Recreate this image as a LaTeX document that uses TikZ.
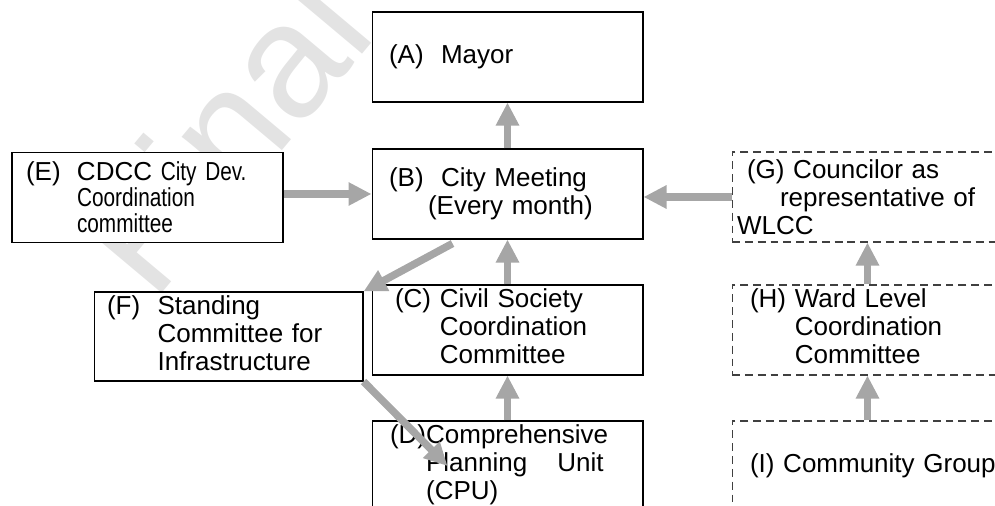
\documentclass[tikz,border=0pt]{standalone}
\usepackage{fontspec}
\setmainfont{Liberation Sans}
\newfontfamily\narrowfont[FakeStretch=0.8]{Liberation Sans}
\usetikzlibrary{arrows.meta}
\newcommand{\smtext}[1]{{\narrowfont\fontsize{14.8pt}{14pt}\selectfont #1}}

\begin{document}
\begin{tikzpicture}[x=0.02cm,y=-0.02cm,
  box/.style={draw, fill=white, line width=0.6pt, minimum height=1.8cm, inner ysep=0pt, align=left, font=\fontsize{14.8pt}{15.9pt}\selectfont},
  wardbox/.style={box, draw=black!75, dash pattern=on 4.5pt off 2.8pt},
  flow/.style={draw=black!35, line width=0.15cm, -{Triangle[width=0.44cm,length=0.46cm]}}]
\clip (0,0) rectangle (995,506);
% watermark
\node (wm) [rotate=50, text=black!11, font=\fontsize{92pt}{92pt}\selectfont] at (222,132) {Final};
% city level
\node (A) [box, inner xsep=0.34cm, text width=4.74cm] at (507.5,57) {(A)\ \ Mayor};
\node (B) [box, inner xsep=0.34cm, text width=4.74cm] at (507.5,194) {(B)\ \ City Meeting\\\hspace*{0.78cm}(Every month)};
\node (C) [box, inner xsep=0.46cm, text width=4.5cm] at (507.5,330) {\begin{tabular}{@{}l@{\ }l@{}}(C) & Civil Society\\ & Coordination\\ & Committee\end{tabular}};
\node (D) [box, inner xsep=0.36cm, text width=4.7cm] at (507.5,466) {\begin{tabular}{@{}l@{}l@{}}(D) & Comprehensive\\ & \makebox[101pt][l]{Planning\hfill Unit}\\ & (CPU)\end{tabular}};
\node (E) [box, inner xsep=0.28cm, text width=4.86cm, font=\fontsize{14.8pt}{14.8pt}\selectfont] at (147.5,197.5) {\makebox[1.02cm][l]{(E)}CDCC \smtext{City Dev.}\\\hspace*{1.02cm}\smtext{Coordination}\\\hspace*{1.02cm}\smtext{committee}};
\node (F) [box, inner xsep=0.26cm, text width=4.86cm, minimum height=1.78cm] at (228.5,336.5) {\begin{tabular}{@{}l@{\ \ }l@{}}(F) & Standing\\ & Committee for\\ & Infrastructure\end{tabular}};
% ward level
\node (G) [wardbox, inner xsep=0.1cm, text width=5.22cm] at (867.5,197) {\hspace*{0.2cm}(G) Councilor as\\\hspace*{0.86cm}representative of\\WLCC};
\node (H) [wardbox, inner xsep=0.36cm, text width=4.7cm] at (867.5,330) {\begin{tabular}{@{}l@{\ }l@{}}(H) & Ward Level\\ & Coordination\\ & Committee\end{tabular}};
\node (I) [wardbox, inner xsep=0.36cm, text width=4.7cm] at (867.5,466) {\mbox{(I) Community Group}};
% arrows
\draw[flow] (B.north) -- (A.south);
\draw[flow] (E.east |- B.west) -- (B.west);
\draw[flow] (G.west) -- (G.west -| B.east);
\draw[flow] (C.north) -- (B.south);
\draw[flow] (D.north) -- (C.south);
\draw[flow] ([xshift=-1.1cm,yshift=-0.08cm]B.south) -- (F.north east);
\draw[flow] (F.south east) -- ([xshift=-1.2cm]D.center);
\draw[flow] (H.north) -- (G.south);
\draw[flow] (I.north) -- (H.south);
\end{tikzpicture}
\end{document}
